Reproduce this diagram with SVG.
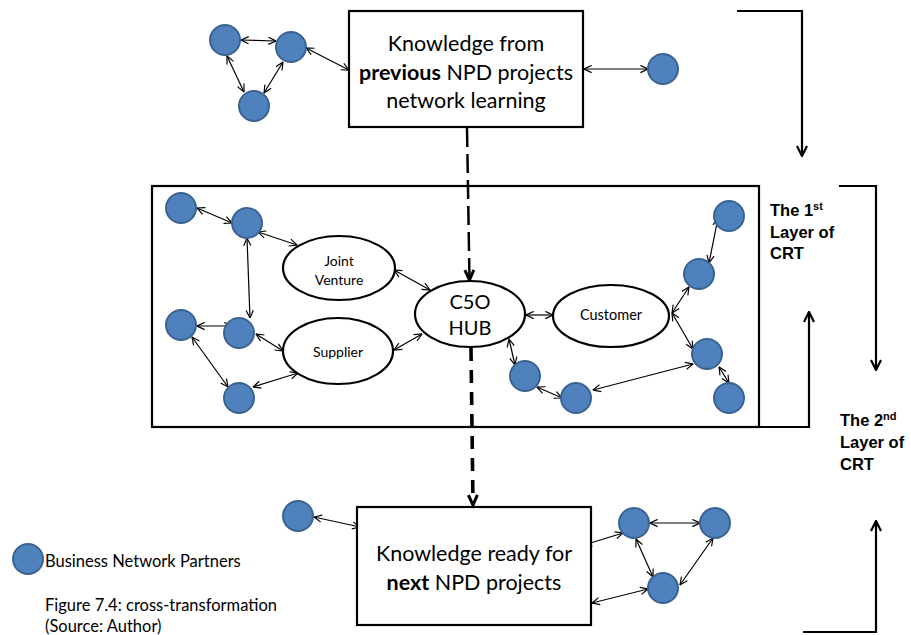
<svg xmlns="http://www.w3.org/2000/svg" width="911" height="635" viewBox="0 0 911 635">
<style>
.bg{fill:#ffffff}
.box{fill:#ffffff;stroke:#000;stroke-width:2.2}
.frame{fill:none;stroke:#000;stroke-width:2.2}
.ell{fill:#ffffff;stroke:#000;stroke-width:2.2}
.dot{fill:#4F81BD;stroke:#3A6391;stroke-width:2}
.lnk{fill:none;stroke:#000;stroke-width:1.2;marker-start:url(#ah);marker-end:url(#ah)}
.brk{fill:none;stroke:#000;stroke-width:2.2}
.t{font-family:Lato,"Open Sans",sans-serif;fill:#000}
.b{font-family:"Liberation Sans",Arial,sans-serif;font-weight:bold;font-size:16.5px;fill:#000}
</style>
<defs>
<marker id="ah" viewBox="0 0 10 10" refX="9.5" refY="5" markerWidth="9" markerHeight="9" markerUnits="userSpaceOnUse" orient="auto-start-reverse">
<path d="M1,1 L9.5,5 L1,9" fill="none" stroke="#000" stroke-width="1.3"/>
</marker>
<marker id="bh" viewBox="0 0 12 12" refX="11" refY="6" markerWidth="12" markerHeight="12" markerUnits="userSpaceOnUse" orient="auto">
<path d="M1,1 L11,6 L1,11" fill="none" stroke="#000" stroke-width="2.2"/>
</marker>
<marker id="dh" viewBox="0 0 12 12" refX="11" refY="6" markerWidth="12" markerHeight="12" markerUnits="userSpaceOnUse" orient="auto">
<path d="M1,1.5 L11,6 L1,10.5" fill="none" stroke="#000" stroke-width="3"/>
</marker>
</defs>
<rect class="bg" x="0" y="0" width="911" height="635"/>

<g id="layer1-frame">
<rect class="frame" x="152" y="186" width="607" height="241"/>
</g>

<g id="connectors">
<!-- top cluster -->
<line class="lnk" x1="241" y1="40" x2="276" y2="41"/>
<line class="lnk" x1="227" y1="56" x2="244" y2="92"/>
<line class="lnk" x1="283" y1="62" x2="264" y2="93"/>
<line class="lnk" x1="306" y1="48" x2="349" y2="70"/>
<line class="lnk" x1="584" y1="69" x2="648" y2="69"/>
<!-- middle left -->
<line class="lnk" x1="197" y1="208" x2="232" y2="223"/>
<line class="lnk" x1="258" y1="232" x2="297" y2="245"/>
<line class="lnk" x1="247" y1="238" x2="250" y2="318"/>
<line class="lnk" x1="197" y1="326" x2="232" y2="326"/>
<line class="lnk" x1="256" y1="334" x2="283" y2="351"/>
<line class="lnk" x1="192" y1="337" x2="228" y2="387"/>
<line class="lnk" x1="253" y1="387" x2="298" y2="373"/>
<line class="lnk" x1="394" y1="270" x2="430" y2="290"/>
<line class="lnk" x1="394" y1="350" x2="422" y2="334"/>
<!-- middle right -->
<line class="lnk" x1="526" y1="315" x2="553" y2="315"/>
<line class="lnk" x1="509" y1="339" x2="515" y2="365"/>
<line class="lnk" x1="537" y1="387" x2="562" y2="398"/>
<line class="lnk" x1="593" y1="390" x2="693" y2="364"/>
<line class="lnk" x1="672" y1="313" x2="689" y2="287"/>
<line class="lnk" x1="672" y1="313" x2="693" y2="349"/>
<line class="lnk" x1="718" y1="218" x2="709" y2="263"/>
<line class="lnk" x1="719" y1="367" x2="729" y2="383"/>
<!-- bottom -->
<line class="lnk" x1="314" y1="517" x2="360" y2="527"/>
<line class="lnk" x1="584" y1="545" x2="623" y2="533"/>
<line class="lnk" x1="650" y1="523" x2="700" y2="523"/>
<line class="lnk" x1="636" y1="539" x2="653" y2="577"/>
<line class="lnk" x1="713" y1="538" x2="680" y2="585"/>
<line class="lnk" x1="592" y1="603" x2="648" y2="589"/>
<!-- dashed flow -->
<line x1="467" y1="128" x2="469.5" y2="280" fill="none" stroke="#000" stroke-width="2.5" stroke-dasharray="19,7" marker-end="url(#dh)"/>
<line x1="471" y1="348" x2="473" y2="505" fill="none" stroke="#000" stroke-width="3.6" stroke-dasharray="13,9" marker-end="url(#dh)"/>
<!-- right brackets -->
<polyline class="brk" points="737,11 802,11 802,156" marker-end="url(#bh)"/>
<polyline class="brk" points="839,186 876,186 876,370" marker-end="url(#bh)"/>
<polyline class="brk" points="759,427 809,427 809,312" marker-end="url(#bh)"/>
<polyline class="brk" points="803,632 876,632 876,521" marker-end="url(#bh)"/>
</g>

<g id="box-previous">
<rect class="box" x="349" y="11" width="234" height="116"/>
<text class="t" font-size="21.5" text-anchor="middle"><tspan x="466" y="51">Knowledge from</tspan><tspan x="466" y="80"><tspan font-weight="bold">previous</tspan> NPD projects</tspan><tspan x="466" y="108">network learning</tspan></text>
</g>

<g id="joint-venture">
<ellipse class="ell" cx="339" cy="268" rx="56" ry="32"/>
<text class="t" font-size="14" text-anchor="middle"><tspan x="339" y="266">Joint</tspan><tspan x="339" y="285">Venture</tspan></text>
</g>
<g id="supplier">
<ellipse class="ell" cx="338" cy="351" rx="55" ry="33"/>
<text class="t" font-size="14" text-anchor="middle" x="338" y="357">Supplier</text>
</g>
<g id="c5o-hub">
<ellipse class="ell" cx="470" cy="314" rx="55" ry="33"/>
<text class="t" font-size="20" text-anchor="middle"><tspan x="470" y="309">C5O</tspan><tspan x="470" y="335">HUB</tspan></text>
</g>
<g id="customer">
<ellipse class="ell" cx="611" cy="316" rx="58" ry="31"/>
<text class="t" font-size="14.5" text-anchor="middle" x="611" y="320">Customer</text>
</g>

<g id="box-next">
<rect class="box" x="357" y="507" width="234" height="118"/>
<text class="t" font-size="21.5" text-anchor="middle"><tspan x="474" y="561">Knowledge ready for</tspan><tspan x="474" y="590"><tspan font-weight="bold">next</tspan> NPD projects</tspan></text>
</g>

<g id="partners">
<circle class="dot" cx="225" cy="40" r="15"/>
<circle class="dot" cx="291" cy="47" r="15"/>
<circle class="dot" cx="254" cy="106" r="15"/>
<circle class="dot" cx="663" cy="69" r="15"/>
<circle class="dot" cx="181" cy="208" r="15"/>
<circle class="dot" cx="247" cy="223" r="15"/>
<circle class="dot" cx="181" cy="325" r="15"/>
<circle class="dot" cx="239" cy="333" r="15"/>
<circle class="dot" cx="239" cy="398" r="15"/>
<circle class="dot" cx="729" cy="216" r="15"/>
<circle class="dot" cx="699" cy="274" r="15"/>
<circle class="dot" cx="707" cy="354" r="15"/>
<circle class="dot" cx="729" cy="398" r="15"/>
<circle class="dot" cx="525" cy="376" r="15"/>
<circle class="dot" cx="576" cy="398" r="15"/>
<circle class="dot" cx="298" cy="516" r="15"/>
<circle class="dot" cx="634" cy="523" r="15"/>
<circle class="dot" cx="715" cy="523" r="15"/>
<circle class="dot" cx="663" cy="588" r="15"/>
</g>

<g id="layer-labels">
<text class="b"><tspan x="770" y="216">The 1<tspan font-size="11" dy="-6">st</tspan></tspan><tspan x="770" y="238">Layer of</tspan><tspan x="770" y="259">CRT</tspan></text>
<text class="b"><tspan x="840" y="426">The 2<tspan font-size="11" dy="-6">nd</tspan></tspan><tspan x="840" y="448">Layer of</tspan><tspan x="840" y="470">CRT</tspan></text>
</g>

<g id="legend">
<circle class="dot" cx="28" cy="559" r="15"/>
<text class="t" font-size="16.5" x="45" y="567">Business Network Partners</text>
<text class="t" font-size="16.5" x="45" y="611">Figure 7.4: cross-transformation</text>
<text class="t" font-size="16.5" x="45" y="632">(Source: Author)</text>
</g>
</svg>
